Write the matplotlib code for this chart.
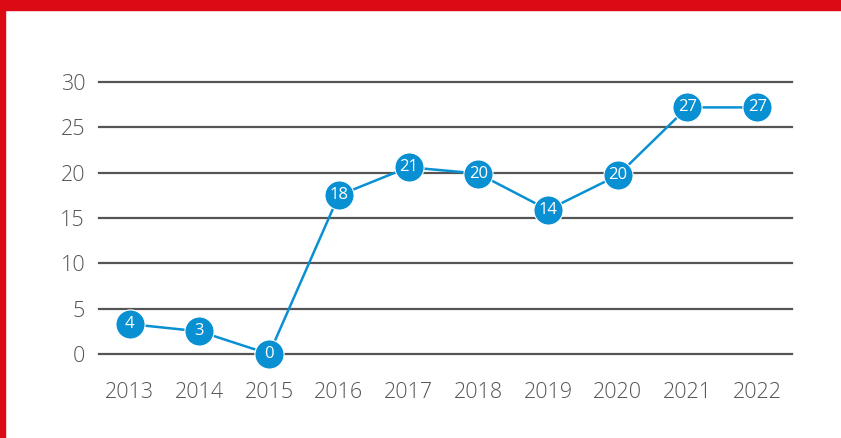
import matplotlib
matplotlib.use("Agg")
import matplotlib.pyplot as plt
from matplotlib.patches import Rectangle

years = ["2013", "2014", "2015", "2016", "2017", "2018", "2019", "2020", "2021", "2022"]
values = [3.3, 2.5, 0.0, 17.5, 20.6, 19.9, 15.9, 19.7, 27.2, 27.2]
labels = ["4", "3", "0", "18", "21", "20", "14", "20", "27", "27"]
yticks = [0, 5, 10, 15, 20, 25, 30]

W, H = 841, 438
fig = plt.figure(figsize=(W / 100, H / 100), dpi=100)
plt.rcParams['font.family'] = ['Open Sans', 'DejaVu Sans']

# red frame
red = "#dc0a14"
fig.patches.append(Rectangle((0, 1 - 10 / H), 1, 10 / H, transform=fig.transFigure, color=red, zorder=0))
fig.patches.append(Rectangle((0, 0), 5 / W, 1, transform=fig.transFigure, color=red, zorder=0))

left, right = 99 / W, 792 / W
bottom, top = (H - 354) / H, (H - 82) / H
ax = fig.add_axes([left, bottom, right - left, top - bottom])
ax.set_ylim(0, 30)
ax.set_xlim(-0.44, 9.5)

for t in yticks:
    ax.axhline(t, color="#555555", lw=1.6, zorder=1, clip_on=False)

x = list(range(len(years)))
blue = "#0990d2"
ax.plot(x, values, color=blue, lw=1.8, zorder=2, clip_on=False)
ax.plot(x, values, 'o', color=blue, markersize=21, markeredgecolor="white", markeredgewidth=0.8,
        zorder=3, clip_on=False)
for xi, v, lab in zip(x, values, labels):
    ax.text(xi, v, lab, color="white", ha="center", va="center", fontsize=12, zorder=4)

ax.set_yticks(yticks)
ax.set_yticklabels([str(t) for t in yticks])
ax.set_xticks(x)
ax.set_xticklabels(years)
ax.tick_params(axis='both', length=0, labelsize=15.5, labelcolor="#555555")
ax.tick_params(axis='y', pad=10)
ax.tick_params(axis='x', pad=20)
for lab in ax.get_xticklabels() + ax.get_yticklabels():
    lab.set_fontweight('light')
for s in ax.spines.values():
    s.set_visible(False)
ax.set_facecolor("none")

fig.savefig("out.png", dpi=100)
